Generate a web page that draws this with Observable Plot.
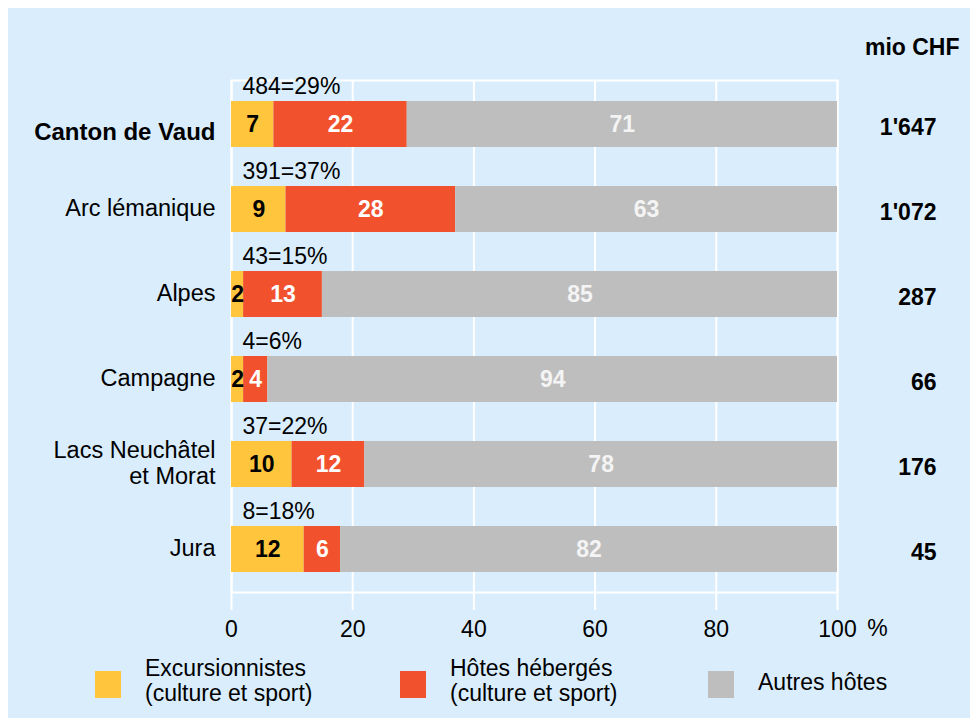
<!DOCTYPE html>
<html>
<head>
<meta charset="utf-8">
<script src="https://cdn.jsdelivr.net/npm/d3@7"></script>
<script src="https://cdn.jsdelivr.net/npm/@observablehq/plot@0.6"></script>
<style>
  body { margin: 0; background: #ffffff; font-family: "Liberation Sans", Arial, sans-serif; }
  #panel { position: absolute; left: 8px; top: 8px; width: 962px; height: 710px; background: #d9edfc; overflow: hidden; }
  #chart { position: absolute; left: 0; top: 0; }
  .item { position: absolute; top: 648px; display: flex; align-items: flex-start; font-size: 23px; line-height: 25px; color: #000; }
  .swatch { width: 26px; height: 27px; margin-top: 15px; margin-right: 24px; flex: none; }
  .label { white-space: pre; }
</style>
</head>
<body>
<div id="panel"><div id="chart"></div></div>
<script>
// ---- data ----
const regions = ["Canton de Vaud", "Arc lémanique", "Alpes", "Campagne", "Lacs Neuchâtel\net Morat", "Jura"];
const seriesKeys = ["Excursionnistes", "Hôtes hébergés", "Autres hôtes"];
const seriesLabels = ["Excursionnistes\n(culture et sport)", "Hôtes hébergés\n(culture et sport)", "Autres hôtes"];
const excursionnistes = [7, 9, 2, 2, 10, 12];
const hotesHeberges = [22, 28, 13, 4, 12, 6];
const autresHotes = [71, 63, 85, 94, 78, 82];
const totalMioCHF = ["1'647", "1'072", "287", "66", "176", "45"];
const cultureSport = ["484=29%", "391=37%", "43=15%", "4=6%", "37=22%", "8=18%"];
const xTicks = [0, 20, 40, 60, 80, 100];
const colors = ["#fec53d", "#f2512d", "#bebebe"];
const labelColors = ["#000000", "#ffffff", "#f4f4f4"];

const seriesValues = [excursionnistes, hotesHeberges, autresHotes];
const long = regions.flatMap((r, i) => seriesKeys.map((s, j) => ({region: r, series: s, value: seriesValues[j][i]})));
const rows = regions.map((r, i) => ({region: r, total: totalMioCHF[i], share: cultureSport[i]}));

const font = "Liberation Sans, Arial, sans-serif";

const segLabels = seriesKeys.map((s, j) =>
  Plot.text(long, Plot.filter(d => d.series === s, Plot.stackX({
    x: "value", y: "region", text: d => String(d.value),
    fill: labelColors[j], fontWeight: "bold", fontSize: 23
  })))
);

const chart = Plot.plot({
  width: 962,
  height: 642,
  marginLeft: 223,
  marginRight: 133,
  marginTop: 72,
  marginBottom: 58,
  style: {background: "transparent", fontFamily: font, fontSize: "23px", color: "#000"},
  x: {domain: [0, 100], axis: null},
  y: {domain: regions, paddingInner: 0.46, paddingOuter: 0.234, axis: null},
  color: {domain: seriesKeys, range: colors},
  marks: [
    Plot.ruleX(xTicks, {stroke: "white", strokeWidth: 2}),
    Plot.frame({stroke: "white", strokeWidth: 2}),
    Plot.axisX(xTicks, {tickSize: 18, stroke: "white", strokeWidth: 2, strokeOpacity: 1, tickPadding: 10, fill: "#000", fontSize: 23, label: null}),
    Plot.text(["%"], {frameAnchor: "bottom-right", lineAnchor: "middle", textAnchor: "middle", dx: 40, dy: 36, fontSize: 23, fill: "#000"}),
    Plot.barX(long, {x: "value", y: "region", fill: "series"}),
    ...segLabels,
    // category labels
    Plot.text(rows.filter((d, i) => i > 0), {y: "region", text: "region", frameAnchor: "left", dx: -16, dy: -2, textAnchor: "end", fontSize: 23.5, lineHeight: 1.1, fill: "#000"}),
    Plot.text(rows.filter((d, i) => i === 0), {y: "region", text: "region", frameAnchor: "left", dx: -16, dy: 8, textAnchor: "end", fontSize: 24, fontWeight: "bold", fill: "#000"}),
    // share annotations above bars
    Plot.text(rows, {y: "region", text: "share", frameAnchor: "left", dx: 11, dy: -38, textAnchor: "start", fontSize: 23, fill: "#000"}),
    // totals on the right
    Plot.text(rows, {y: "region", text: "total", frameAnchor: "right", dx: 99, dy: 3, textAnchor: "end", fontSize: 23, fontWeight: "bold", fill: "#000"}),
    Plot.text(["mio CHF"], {frameAnchor: "top-right", lineAnchor: "middle", dx: 122, dy: -33, textAnchor: "end", fontSize: 23, fontWeight: "bold", fill: "#000"})
  ]
});
document.getElementById("chart").appendChild(chart);

// ---- legend ----
const legendLeft = [87, 392, 700];
const panel = d3.select("#panel");
seriesKeys.forEach((s, j) => {
  const item = panel.append("div").attr("class", "item").style("left", legendLeft[j] + "px");
  item.append("div").attr("class", "swatch").style("background", colors[j]);
  item.append("div").attr("class", "label")
    .style("margin-top", j === 2 ? "14px" : "0px")
    .text(seriesLabels[j]);
});
</script>
</body>
</html>
